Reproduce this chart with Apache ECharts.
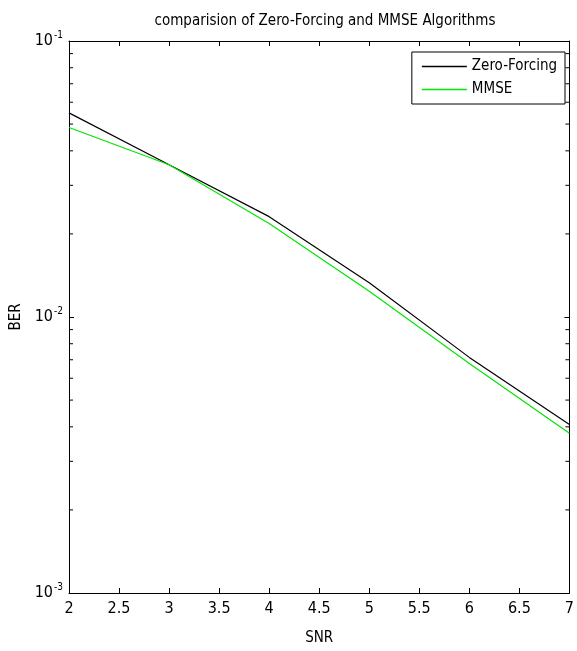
<!DOCTYPE html>
<html>
<head>
<meta charset="utf-8">
<script src="https://cdn.jsdelivr.net/npm/echarts@6/dist/echarts.min.js"></script>
<style>
  html, body { margin: 0; padding: 0; background: #fff; }
  #chart { width: 577px; height: 651px; }
</style>
</head>
<body>
<div id="chart"></div>
<script>
var snr = [2, 3, 4, 5, 6, 7];
var berZF = [0.0549, 0.0356, 0.0231, 0.0133, 0.00714, 0.00408];
var berMMSE = [0.0486, 0.0356, 0.0218, 0.0124, 0.00679, 0.00379];
var minorTicks = [0.002, 0.003, 0.004, 0.005, 0.006, 0.007, 0.008, 0.009,
                  0.02, 0.03, 0.04, 0.05, 0.06, 0.07, 0.08, 0.09];

var FONT = "'Liberation Sans Narrow', 'DejaVu Sans Condensed', 'Liberation Sans', sans-serif";

function pairs(xs, ys) {
  return xs.map(function (x, i) { return [x, ys[i]]; });
}

var chart = echarts.init(document.getElementById('chart'));

var option = {
  backgroundColor: '#fff',
  animation: false,
  title: {
    text: 'comparision of Zero-Forcing and MMSE Algorithms',
    left: 320, top: 9, textAlign: 'center',
    textStyle: { fontFamily: FONT, fontSize: 15, fontWeight: 'normal', color: '#000' }
  },
  legend: {
    orient: 'vertical',
    right: 12, top: 52,
    borderColor: '#000', borderWidth: 1,
    padding: [7, 8, 7, 10],
    itemGap: 8,
    icon: 'rect',
    itemWidth: 45, itemHeight: 1.5,
    textStyle: { fontFamily: FONT, fontSize: 15, color: '#000', lineHeight: 14 },
    data: ['Zero-Forcing', 'MMSE']
  },
  grid: { left: 69, right: 5, top: 41, bottom: 57 },
  xAxis: [{
    type: 'value', position: 'bottom', min: 2, max: 7, interval: 0.5,
    name: 'SNR', nameLocation: 'middle', nameGap: 38,
    nameTextStyle: { fontFamily: FONT, fontSize: 15, color: '#000' },
    axisLine: { onZero: false, lineStyle: { color: '#000', width: 1 } },
    axisTick: { inside: true, length: 5, lineStyle: { color: '#000' } },
    axisLabel: { fontFamily: FONT, fontSize: 16, color: '#000', margin: 8,
      formatter: function (v) { return String(v); } },
    splitLine: { show: false }
  }, {
    type: 'value', position: 'top', min: 2, max: 7, interval: 0.5,
    axisLine: { onZero: false, lineStyle: { color: '#000', width: 1 } },
    axisTick: { inside: true, length: 5, lineStyle: { color: '#000' } },
    axisLabel: { show: false },
    splitLine: { show: false }
  }],
  yAxis: [{
    type: 'log', logBase: 10, min: 0.001, max: 0.1, position: 'left',
    name: 'BER', nameLocation: 'middle', nameGap: 33,
    nameTextStyle: { fontFamily: FONT, fontSize: 15, color: '#000' },
    axisLine: { show: true, lineStyle: { color: '#000', width: 1 } },
    axisTick: { show: true, inside: true, length: 5, lineStyle: { color: '#000' } },
    axisLabel: {
      margin: 6, color: '#000',
      formatter: function (v) {
        var e = Math.round(Math.log(v) / Math.LN10);
        return '{b|10}{s|' + e + '}';
      },
      rich: {
        b: { fontFamily: FONT, fontSize: 16, color: '#000' },
        s: { fontFamily: FONT, fontSize: 10, color: '#000', padding: [0, 0, 12, 1] }
      }
    },
    splitLine: { show: false }
  }, {
    type: 'log', logBase: 10, min: 0.001, max: 0.1, position: 'right',
    axisLine: { show: true, lineStyle: { color: '#000', width: 1 } },
    axisTick: { show: true, inside: true, length: 5, lineStyle: { color: '#000' } },
    axisLabel: { show: false },
    splitLine: { show: false }
  }],
  series: [{
    name: 'Zero-Forcing', type: 'line', symbol: 'none',
    lineStyle: { color: '#000', width: 1.2 }, itemStyle: { color: '#000' },
    data: pairs(snr, berZF)
  }, {
    name: 'MMSE', type: 'line', symbol: 'none',
    lineStyle: { color: '#00e600', width: 1.2 }, itemStyle: { color: '#00e600' },
    data: pairs(snr, berMMSE)
  }]
};

chart.setOption(option);

// MATLAB style minor ticks on the log axis, placed through the axis scale
var g = [];
minorTicks.forEach(function (v) {
  var pL = chart.convertToPixel({ xAxisIndex: 0, yAxisIndex: 0 }, [2, v]);
  var pR = chart.convertToPixel({ xAxisIndex: 0, yAxisIndex: 0 }, [7, v]);
  g.push({ type: 'line', shape: { x1: pL[0], y1: pL[1], x2: pL[0] + 4, y2: pL[1] },
           style: { stroke: '#000', lineWidth: 1 }, silent: true });
  g.push({ type: 'line', shape: { x1: pR[0], y1: pR[1], x2: pR[0] - 4, y2: pR[1] },
           style: { stroke: '#000', lineWidth: 1 }, silent: true });
});
chart.setOption({ graphic: g });
</script>
</body>
</html>
